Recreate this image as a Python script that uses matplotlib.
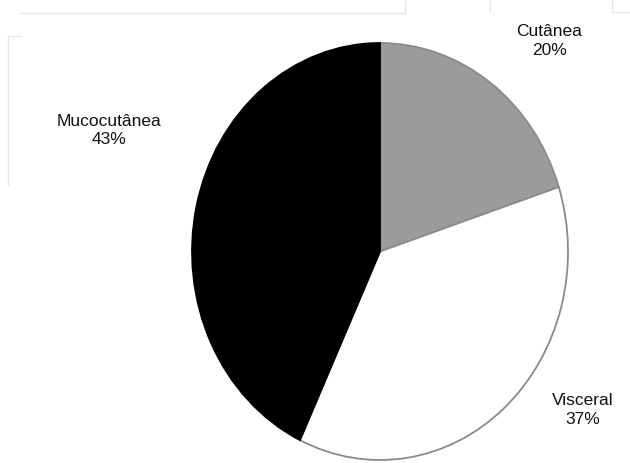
import matplotlib
matplotlib.use("Agg")
import matplotlib.pyplot as plt
from matplotlib.lines import Line2D

# forma clinica - percentuais
labels = ['Cutânea', 'Visceral', 'Mucocutânea']
values = [20, 37, 43]
colors = ['#9b9b9b', '#ffffff', '#000000']

# posicao dos rotulos (coordenadas do eixo da pizza)
label_pos = [(0.90, 1.01), (1.08, -0.76), (-1.44, 0.58)]


def main():
	plt.rcParams['font.family'] = ['Liberation Sans', 'DejaVu Sans']
	fig = plt.figure(figsize=(6.3, 4.63), dpi=100)
	ax = fig.add_axes([0.3048, 0.0065, 0.5968, 0.9006])

	wedges, _ = ax.pie(values, colors=colors, startangle=90, counterclock=False,
		wedgeprops={'edgecolor': '#8a8a8a', 'linewidth': 1.3})
	wedges[2].set_edgecolor('#000000')
	ax.set_aspect('auto')
	ax.set_xlim(-1.0, 1.0)
	ax.set_ylim(-1.0, 1.0)

	for lab, val, (x, y) in zip(labels, values, label_pos):
		ax.text(x, y, f'{lab}\n{val}%', ha='center', va='center', fontsize=12.5,
			color='#111111', linespacing=1.3, clip_on=False)

	# linhas claras da borda da pagina
	faint = '#e6e6e6'
	fig.add_artist(Line2D([20 / 630, 405 / 630], [1 - 13 / 463] * 2, color=faint, lw=1))
	fig.add_artist(Line2D([405 / 630] * 2, [1 - 13 / 463, 1.0], color=faint, lw=1))
	fig.add_artist(Line2D([490 / 630] * 2, [1 - 12 / 463, 1.0], color=faint, lw=1))
	fig.add_artist(Line2D([612 / 630, 1.0], [1 - 12 / 463] * 2, color=faint, lw=1))
	fig.add_artist(Line2D([612 / 630] * 2, [1 - 12 / 463, 1.0], color=faint, lw=1))
	fig.add_artist(Line2D([8 / 630] * 2, [1 - 36 / 463, 1 - 185 / 463], color=faint, lw=1))
	fig.add_artist(Line2D([8 / 630, 20 / 630], [1 - 36 / 463] * 2, color=faint, lw=1))

	fig.savefig('out.png', dpi=100)


if __name__ == "__main__":
	main()
